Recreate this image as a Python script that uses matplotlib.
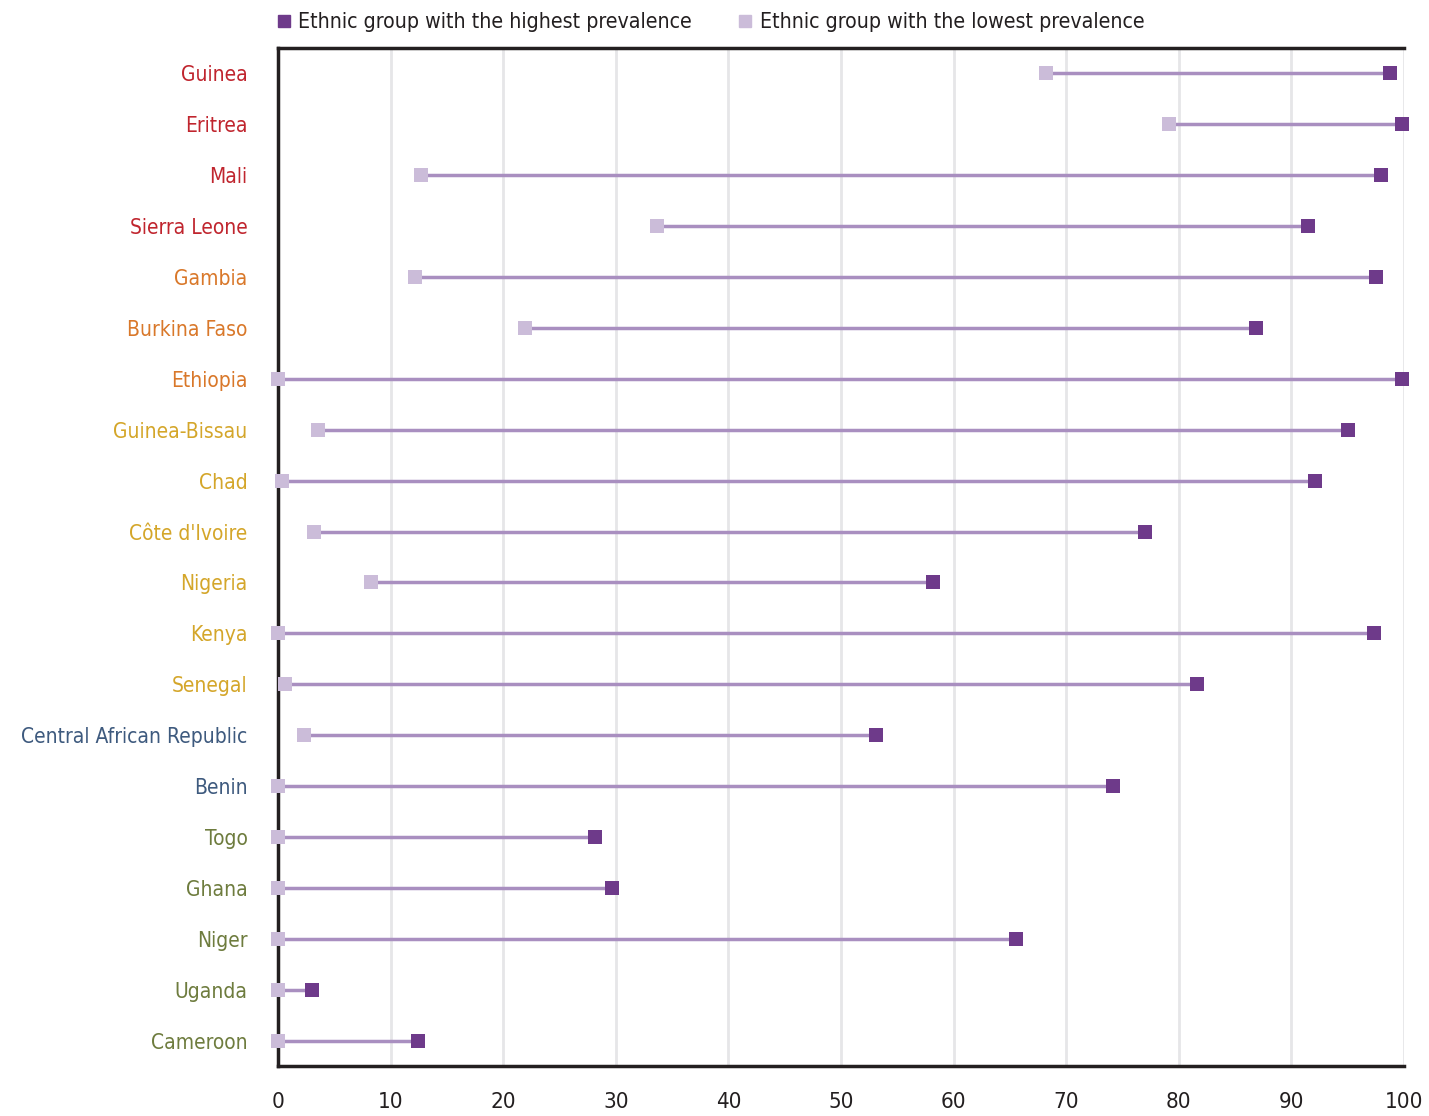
import matplotlib
matplotlib.use("Agg")
import matplotlib.pyplot as plt
from matplotlib.lines import Line2D

plt.rcParams['font.family'] = ['DejaVu Sans']
plt.rcParams['font.stretch'] = 'condensed'

# Dati
countries = ['Guinea', 'Eritrea', 'Mali', 'Sierra Leone', 'Gambia', 'Burkina Faso',
             'Ethiopia', 'Guinea-Bissau', 'Chad', "Côte d'Ivoire", 'Nigeria', 'Kenya',
             'Senegal', 'Central African Republic', 'Benin', 'Togo', 'Ghana', 'Niger',
             'Uganda', 'Cameroon']
lowest = [68.2, 79.1, 12.7, 33.7, 12.2, 21.9, 0.0, 3.6, 0.4, 3.2, 8.3, 0.0,
          0.6, 2.3, 0.0, 0.0, 0.0, 0.0, 0.0, 0.0]
highest = [98.8, 99.8, 98.0, 91.5, 97.5, 86.9, 99.8, 95.0, 92.1, 77.0, 58.2, 97.3,
           81.6, 53.1, 74.2, 28.2, 29.7, 65.5, 3.0, 12.4]
groups = ['red'] * 4 + ['orange'] * 3 + ['gold'] * 6 + ['slate'] * 2 + ['olive'] * 5
xticks = [0, 10, 20, 30, 40, 50, 60, 70, 80, 90, 100]

group_colors = {'red': '#c0252e', 'orange': '#d9782a', 'gold': '#d4a62a',
                'slate': '#3e5a7e', 'olive': '#6e7c3e'}
dark = '#6e3a8a'
light = '#cbbcd9'
line_col = '#a98fc0'

fig = plt.figure(figsize=(14.29, 11.16), dpi=100)
ax = fig.add_axes([0.1945, 0.0448, 0.788, 0.9122])

y = list(range(len(countries)))
for i in y:
    ax.plot([lowest[i], highest[i]], [i, i], color=line_col, lw=2.5, zorder=2,
            solid_capstyle='butt')
ax.scatter(lowest, y, marker='s', s=110, color=light, zorder=4, clip_on=False,
           linewidths=0)
ax.scatter(highest, y, marker='s', s=110, color=dark, zorder=5, clip_on=False,
           linewidths=0)

ax.set_xlim(0, 100)
ax.set_ylim(len(countries) - 0.5, -0.5)
ax.set_xticks(xticks)
ax.set_xticklabels([str(t) for t in xticks], fontsize=16, color='#231f20')
ax.tick_params(axis='x', length=0, pad=19)
ax.set_yticks(y)
ax.set_yticklabels(countries, fontsize=15)
ax.tick_params(axis='y', length=0, pad=22)
for lab, g in zip(ax.get_yticklabels(), groups):
    lab.set_color(group_colors[g])

ax.grid(axis='x', color='#e6e6e8', lw=2, zorder=0)
ax.set_axisbelow(True)
for s in ['left', 'bottom', 'top']:
    ax.spines[s].set_color('#231f20')
    ax.spines[s].set_linewidth(2.5)
ax.spines['right'].set_visible(False)

handles = [Line2D([], [], marker='s', ls='none', color=dark, markersize=8),
           Line2D([], [], marker='s', ls='none', color=light, markersize=8)]
ax.legend(handles, ['Ethnic group with the highest prevalence',
                    'Ethnic group with the lowest prevalence'],
          ncol=2, loc='lower left', bbox_to_anchor=(-0.012, 1.003), frameon=False,
          fontsize=15.3, handlelength=0.6, handletextpad=0.4, columnspacing=2.2,
          borderaxespad=0.2, labelcolor='#231f20')

fig.savefig('out.png', dpi=100, facecolor='white')
